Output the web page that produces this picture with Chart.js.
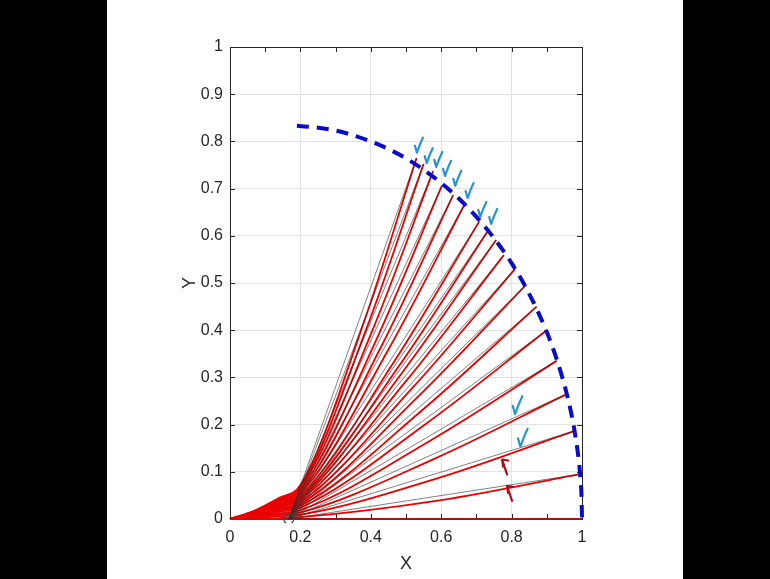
<!DOCTYPE html>
<html>
<head>
<meta charset="utf-8">
<script src="https://cdn.jsdelivr.net/npm/chart.js@4.4.1/dist/chart.umd.min.js"></script>
<style>
  body { margin: 0; background: #000; width: 770px; height: 579px; overflow: hidden; }
  #wrap { position: absolute; left: 107px; top: 0; width: 576px; height: 579px; background: #fff; }
</style>
</head>
<body>
<div id="wrap"><canvas id="myCanvas" width="576" height="579"></canvas></div>
<script>
'use strict';

// tick labels
const xTickLabels = ['0', '0.2', '0.4', '0.6', '0.8', '1'];
const yTickLabels = ['0', '0.1', '0.2', '0.3', '0.4', '0.5', '0.6', '0.7', '0.8', '0.9', '1'];

// pivot of the straight (black) lines, the little circle on the x axis
const pivotX = 0.167;
const pivotY = 0;

// end points on the arc (steepest first)
const endX = [0.530, 0.550, 0.577, 0.602, 0.634, 0.669, 0.708, 0.734, 0.756, 0.778, 0.810, 0.841, 0.871, 0.900, 0.928, 0.952, 0.977, 0.995, 1.0];
const endY = [0.765, 0.752, 0.737, 0.706, 0.686, 0.670, 0.630, 0.612, 0.591, 0.559, 0.530, 0.496, 0.450, 0.400, 0.335, 0.263, 0.186, 0.095, 0];

// red curves: they leave the origin flat, heights read at x = 0.07, 0.14, 0.2
const redX = [0, 0.07, 0.14, 0.2];
const redAt007 = [0.018, 0.017, 0.016, 0.015, 0.014, 0.013, 0.012, 0.011, 0.010, 0.009, 0.008, 0.007, 0.006, 0.005, 0.004, 0.003, 0.002, 0.001, 0];
const redAt014 = [0.045, 0.043, 0.041, 0.038, 0.036, 0.034, 0.031, 0.029, 0.027, 0.025, 0.022, 0.020, 0.018, 0.015, 0.012, 0.009, 0.006, 0.002, 0];
const redAt02 = [0.072, 0.069, 0.066, 0.062, 0.058, 0.054, 0.050, 0.046, 0.043, 0.040, 0.036, 0.032, 0.028, 0.024, 0.019, 0.014, 0.009, 0.004, 0];
// a point half way up each red curve, it sits a little right of its black line
const redMidX = [0.379, 0.389, 0.402, 0.414, 0.430, 0.447, 0.466, 0.478, 0.489, 0.500, 0.515, 0.530, 0.545, 0.559, 0.571, 0.582, 0.593, 0.600, 0.600];
const redMidY = [0.414, 0.406, 0.395, 0.377, 0.366, 0.355, 0.333, 0.322, 0.310, 0.292, 0.275, 0.256, 0.230, 0.203, 0.167, 0.128, 0.087, 0.040, 0];

// blue dashed arc
const arcX = [0.19, 0.25, 0.30, 0.35, 0.40, 0.45, 0.50, 0.55, 0.60, 0.65, 0.70, 0.75, 0.80, 0.85, 0.90, 0.93, 0.96, 0.98, 0.995, 0.999, 1.0];
const arcY = [0.833, 0.829, 0.823, 0.813, 0.800, 0.784, 0.764, 0.740, 0.712, 0.679, 0.640, 0.595, 0.542, 0.477, 0.396, 0.334, 0.255, 0.181, 0.091, 0.04, 0];

// hand drawn marks on the video frame
const checkX = [0.531, 0.559, 0.586, 0.611, 0.640, 0.675, 0.711, 0.742];
const checkY = [0.776, 0.754, 0.746, 0.727, 0.706, 0.680, 0.640, 0.625];
const sideCheckX = [0.810, 0.825];
const sideCheckY = [0.222, 0.153];
const arrowX = [0.773, 0.787];
const arrowY = [0.126, 0.070];

const axisColor = '#262626';
const fontFamily = "'Liberation Sans', Arial, Helvetica, sans-serif";

let datasets = [];

for (let i = 0; i < endX.length; i++) {
  datasets.push({
    data: [{ x: pivotX, y: pivotY }, { x: endX[i], y: endY[i] }],
    borderColor: 'rgba(45,45,45,0.75)',
    borderWidth: 0.8,
    order: 1
  });
  datasets.push({
    data: [
      { x: redX[0], y: 0 },
      { x: redX[1], y: redAt007[i] },
      { x: redX[2], y: redAt014[i] },
      { x: redX[3], y: redAt02[i] },
      { x: redMidX[i], y: redMidY[i] },
      { x: endX[i], y: endY[i] }
    ],
    borderColor: 'rgb(235,0,0)',
    borderWidth: 1.8,
    cubicInterpolationMode: 'monotone',
    order: 2
  });
}

let arcData = [];
for (let i = 0; i < arcX.length; i++) {
  arcData.push({ x: arcX[i], y: arcY[i] });
}
datasets.push({
  data: arcData,
  borderColor: 'rgb(10,10,205)',
  borderWidth: 4,
  borderDash: [12, 8],
  cubicInterpolationMode: 'monotone',
  order: 0
});

datasets.push({
  data: [{ x: pivotX, y: pivotY }],
  showLine: false,
  pointRadius: 5,
  pointBorderWidth: 1.3,
  pointBorderColor: '#444',
  pointBackgroundColor: 'rgba(0,0,0,0)',
  order: 0
});

// box, inner ticks
const boxPlugin = {
  id: 'box',
  beforeDatasetsDraw(chart) {
    const { ctx, chartArea: a, scales: { x, y } } = chart;
    ctx.save();
    ctx.strokeStyle = axisColor;
    ctx.lineWidth = 1;
    ctx.strokeRect(Math.round(a.left) + 0.5, Math.round(a.top) + 0.5, Math.round(a.right - a.left), Math.round(a.bottom - a.top));
    ctx.beginPath();
    x.ticks.forEach(t => {
      const px = Math.round(x.getPixelForValue(t.value)) + 0.5;
      ctx.moveTo(px, a.bottom); ctx.lineTo(px, a.bottom - 5);
      ctx.moveTo(px, a.top); ctx.lineTo(px, a.top + 5);
    });
    y.ticks.forEach(t => {
      const py = Math.round(y.getPixelForValue(t.value)) + 0.5;
      ctx.moveTo(a.left, py); ctx.lineTo(a.left + 5, py);
      ctx.moveTo(a.right, py); ctx.lineTo(a.right - 5, py);
    });
    ctx.stroke();
    ctx.restore();
  }
};

const marksPlugin = {
  id: 'marks',
  afterDatasetsDraw(chart) {
    const { ctx, scales: { x, y } } = chart;
    ctx.save();
    ctx.lineCap = 'round';
    ctx.lineJoin = 'round';
    ctx.strokeStyle = 'rgb(38,150,205)';
    ctx.lineWidth = 2.2;
    for (let i = 0; i < checkX.length; i++) {
      drawCheck(ctx, x.getPixelForValue(checkX[i]), y.getPixelForValue(checkY[i]), 1);
    }
    for (let i = 0; i < sideCheckX.length; i++) {
      drawCheck(ctx, x.getPixelForValue(sideCheckX[i]), y.getPixelForValue(sideCheckY[i]), 1.2);
    }
    ctx.strokeStyle = 'rgb(170,15,30)';
    for (let i = 0; i < arrowX.length; i++) {
      const px = x.getPixelForValue(arrowX[i]);
      const py = y.getPixelForValue(arrowY[i]);
      ctx.beginPath();
      ctx.moveTo(px + 5, py + 15);
      ctx.lineTo(px, py);
      ctx.lineTo(px + 6, py + 1);
      ctx.moveTo(px, py);
      ctx.lineTo(px + 1, py + 7);
      ctx.stroke();
    }
    ctx.restore();
  }
};

function drawCheck(ctx, px, py, s) {
  ctx.beginPath();
  ctx.moveTo(px - 2 * s, py - 7 * s);
  ctx.lineTo(px, py);
  ctx.quadraticCurveTo(px + 3 * s, py - 9 * s, px + 6 * s, py - 15 * s);
  ctx.stroke();
}

const config = {
  type: 'scatter',
  data: { datasets: datasets },
  options: {
    responsive: false,
    animation: false,
    showLine: true,
    clip: 4,
    elements: { point: { radius: 0 } },
    layout: { padding: { left: 0, top: 47, right: 101, bottom: 0 } },
    plugins: { legend: { display: false }, tooltip: { enabled: false } },
    scales: {
      x: {
        type: 'linear',
        min: 0,
        max: 1,
        afterFit: scale => { scale.height = 60; },
        ticks: {
          stepSize: 0.1,
          padding: 9,
          maxRotation: 0,
          autoSkip: false,
          color: axisColor,
          font: { family: fontFamily, size: 16 },
          callback: value => {
            const k = Math.round(value * 10);
            return k % 2 === 0 ? xTickLabels[k / 2] : '';
          }
        },
        grid: {
          drawTicks: false,
          color: ctx => (Math.round(ctx.tick.value * 10) % 2 === 0 ? '#e3e3e3' : 'rgba(0,0,0,0)')
        },
        border: { display: false },
        title: {
          display: true,
          text: 'X',
          color: axisColor,
          font: { family: fontFamily, size: 18 },
          padding: { top: 0, bottom: 4 }
        }
      },
      y: {
        type: 'linear',
        min: 0,
        max: 1,
        afterFit: scale => { scale.width = 123; },
        ticks: {
          stepSize: 0.1,
          padding: 7,
          autoSkip: false,
          color: axisColor,
          font: { family: fontFamily, size: 16 },
          callback: value => yTickLabels[Math.round(value * 10)]
        },
        grid: { drawTicks: false, color: '#e3e3e3' },
        border: { display: false },
        title: {
          display: true,
          text: 'Y',
          color: axisColor,
          font: { family: fontFamily, size: 18 },
          padding: { top: 72, bottom: 0 }
        }
      }
    }
  },
  plugins: [boxPlugin, marksPlugin]
};

const chart = document.getElementById('myCanvas');
const myChart = new Chart(chart, config);
</script>
</body>
</html>
